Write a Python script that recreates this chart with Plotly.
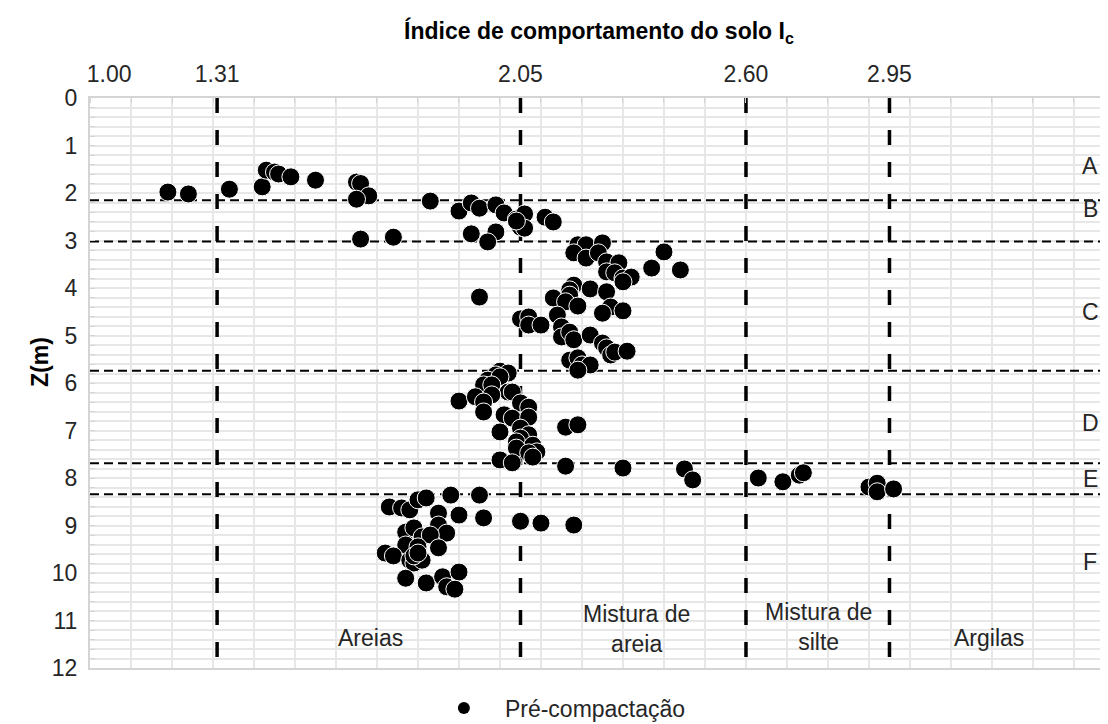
import plotly.graph_objects as go

# Índice de comportamento (Ic) e profundidade Z (m) - pré-compactação
ic = [
    # A
    1.19, 1.24, 1.34, 1.42, 1.43, 1.45, 1.46, 1.49, 1.55, 1.65, 1.66, 1.68, 1.65, 1.83,
    # B
    1.90, 1.93, 1.95, 1.99, 2.01, 2.04, 2.06, 2.05, 2.06, 2.04, 2.11, 2.13, 1.93, 1.99,
    1.97, 1.66, 1.74,
    # C
    2.19, 2.21, 2.25, 2.18, 2.21, 2.24, 2.26, 2.29, 2.26, 2.28, 2.30, 2.32, 2.30, 2.40,
    2.37, 2.44, 2.18, 2.17, 2.17, 2.22, 2.26, 2.13, 2.16, 2.19, 2.27, 2.25, 2.30, 1.95,
    2.05, 2.07, 2.07, 2.10, 2.14, 2.15, 2.15, 2.17, 2.18, 2.22, 2.25, 2.26, 2.27, 2.28,
    2.31, 2.17, 2.19, 2.20, 2.22, 2.19,
    # D
    2.00, 2.02, 1.99, 1.97, 2.00, 1.96, 1.98, 2.02, 2.03, 1.90, 1.94, 1.98, 1.96, 1.96,
    2.05, 2.07, 2.01, 2.03, 2.07, 2.00, 2.05, 2.07, 2.05, 2.04, 2.08, 2.09, 2.04, 2.07,
    2.00, 2.03, 2.08, 2.16, 2.19,
    # E
    2.16, 2.30, 2.45, 2.47, 2.63, 2.69, 2.73, 2.74, 2.90, 2.92, 2.92, 2.96,
    # F
    1.73, 1.76, 1.78, 1.80, 1.82, 1.88, 1.95, 1.85, 1.90, 1.96, 2.05, 2.10, 2.18, 1.77,
    1.79, 1.85, 1.87, 1.81, 1.83, 1.77, 1.80, 1.85, 1.72, 1.74, 1.78, 1.79, 1.81, 1.79,
    1.80, 1.77, 1.82, 1.86, 1.90, 1.87, 1.89,
]
z = [
    # A
    1.98, 2.02, 1.92, 1.87, 1.52, 1.56, 1.60, 1.66, 1.73, 1.77, 1.80, 2.06, 2.13, 2.17,
    # B
    2.38, 2.21, 2.32, 2.25, 2.42, 2.55, 2.44, 2.72, 2.74, 2.59, 2.51, 2.61, 2.86, 2.82,
    3.03, 2.97, 2.93,
    # C
    3.09, 3.09, 3.05, 3.26, 3.37, 3.26, 3.45, 3.47, 3.66, 3.68, 3.79, 3.77, 3.87, 3.24,
    3.58, 3.62, 3.94, 4.04, 4.15, 4.02, 4.08, 4.21, 4.29, 4.38, 4.40, 4.53, 4.48, 4.19,
    4.65, 4.61, 4.78, 4.78, 4.57, 4.82, 5.03, 4.93, 5.09, 4.99, 5.16, 5.26, 5.41, 5.35,
    5.33, 5.52, 5.47, 5.62, 5.62, 5.73,
    # D
    5.75, 5.79, 5.83, 5.94, 5.87, 6.04, 6.04, 6.19, 6.19, 6.38, 6.29, 6.25, 6.40, 6.61,
    6.42, 6.51, 6.67, 6.74, 6.72, 7.03, 6.95, 7.09, 7.16, 7.24, 7.31, 7.45, 7.37, 7.47,
    7.62, 7.68, 7.56, 6.93, 6.88,
    # E
    7.75, 7.79, 7.81, 8.04, 8.00, 8.08, 7.94, 7.89, 8.19, 8.11, 8.29, 8.23,
    # F
    8.61, 8.63, 8.67, 8.46, 8.42, 8.36, 8.36, 8.74, 8.78, 8.84, 8.91, 8.95, 8.99, 9.14,
    9.05, 8.99, 9.16, 9.24, 9.20, 9.41, 9.45, 9.47, 9.58, 9.64, 9.73, 9.79, 9.73, 9.64,
    9.58, 10.11, 10.21, 10.08, 9.98, 10.29, 10.34,
]

ic_limits = [1.31, 2.05, 2.60, 2.95]
ic_ticks = [1.00, 1.31, 2.05, 2.60, 2.95]
# o rótulo 1.00 fica um pouco à direita da borda no original
ic_ticktext = ["\u00a0" * 6 + "1.00", "1.31", "2.05", "2.60", "2.95"]
layer_bounds = [2.15, 3.02, 5.74, 7.69, 8.34]
depth_range = [0, 12]
ic_range = [1.0, 3.483]

layer_names = ["A", "B", "C", "D", "E", "F"]
layer_label_z = [1.43, 2.34, 4.51, 6.84, 8.02, 9.77]
layer_label_ic = 3.44

zone_names = ["Areias", "Mistura de<br>areia", "Mistura de<br>silte", "Argilas"]
zone_label_ic = [1.685, 2.334, 2.778, 3.193]
zone_label_z = [11.37, 11.18, 11.13, 11.37]

FONT = "Liberation Sans, Arial, sans-serif"
FS = 23
TXT = "#262626"
GRID = "#e7e7e7"
AXIS = "#d4d4d4"

fig = go.Figure()

# limites de Ic (verticais, traço grosso)
for v in ic_limits:
    fig.add_trace(go.Scatter(
        x=[v, v], y=depth_range, mode="lines", showlegend=False, hoverinfo="skip",
        line=dict(color="black", width=3.5, dash="15px,17px"),
    ))

# limites das camadas (horizontais)
for h in layer_bounds:
    fig.add_trace(go.Scatter(
        x=ic_range, y=[h, h], mode="lines", showlegend=False, hoverinfo="skip",
        line=dict(color="black", width=2, dash="9px,5px"),
    ))

fig.add_trace(go.Scatter(
    x=ic, y=z, mode="markers", showlegend=False,
    marker=dict(size=18, color="black", line=dict(color="white", width=1)),
))
# entrada de legenda
fig.add_trace(go.Scatter(
    x=[None], y=[None], mode="markers", name="Pré-compactação",
    marker=dict(size=12, color="black"),
))

for name, zz in zip(layer_names, layer_label_z):
    fig.add_annotation(x=layer_label_ic, y=zz, text=name, showarrow=False,
                       font=dict(size=FS, color=TXT, family=FONT))

for name, xx, zz in zip(zone_names, zone_label_ic, zone_label_z):
    fig.add_annotation(x=xx, y=zz, text=name, showarrow=False,
                       font=dict(size=FS, color=TXT, family=FONT))

# título do eixo vertical
fig.add_annotation(x=-0.049, y=0.537, xref="paper", yref="paper", text="<b>Z(m)</b>",
                   textangle=-90, showarrow=False, xanchor="center", yanchor="middle",
                   font=dict(size=FS, color="black", family=FONT))

# a página tem 8 px de margem no body: a figura ocupa 1100x716
fig.update_layout(
    width=1100, height=716,
    paper_bgcolor="white", plot_bgcolor="white",
    font=dict(family=FONT, size=FS, color=TXT),
    margin=dict(l=82, r=0, t=90, b=56),
    title=dict(
        text="<b>Índice de comportamento do solo I<sub>c</sub></b>",
        x=0.5, xref="paper", xanchor="center",
        y=1 - 23 / 716, yanchor="middle",
        font=dict(size=FS, color="black", family=FONT),
    ),
    xaxis=dict(
        side="top", range=ic_range, tickmode="array",
        tickvals=ic_ticks, ticktext=ic_ticktext, automargin=False,
        showgrid=False, zeroline=False, ticks="", ticklabelstandoff=5,
        showline=True, linecolor=AXIS, linewidth=2, mirror=True,
        tickfont=dict(size=FS, color=TXT),
        minor=dict(tickmode="linear", tick0=1.0, dtick=0.1, showgrid=True,
                   gridcolor=GRID, gridwidth=2, ticks="inside", ticklen=5,
                   tickcolor=AXIS),
    ),
    yaxis=dict(
        range=[12, 0], dtick=1, tick0=0, automargin=False,
        showgrid=True, gridcolor=GRID, gridwidth=2, zeroline=False,
        showline=True, linecolor=AXIS, linewidth=2, mirror=True,
        ticks="inside", ticklen=5, tickcolor=AXIS, ticklabelstandoff=6,
        tickfont=dict(size=FS, color=TXT),
        minor=dict(dtick=0.2, showgrid=True, gridcolor=GRID, gridwidth=2,
                   ticks="inside", ticklen=5, tickcolor=AXIS),
    ),
    legend=dict(orientation="h", x=0.327, xanchor="left",
                yref="container", y=16 / 716, yanchor="middle",
                itemwidth=72, font=dict(size=FS, color=TXT)),
)

fig.write_html("out.html")
